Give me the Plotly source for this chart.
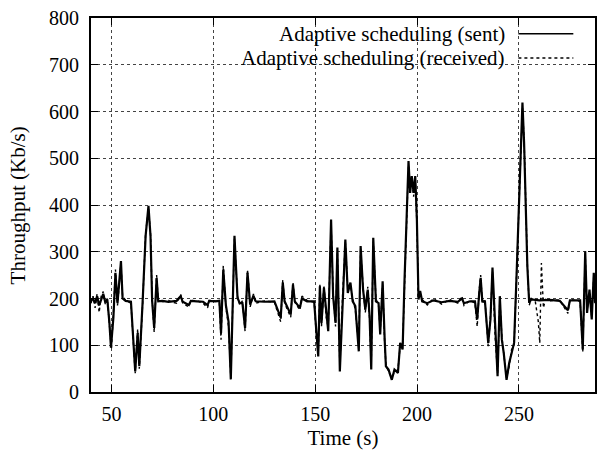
import plotly.graph_objects as go

# Adaptive scheduling (sent)
sent_t = [40, 41, 42, 43, 44, 45, 46, 47, 48, 49, 49.8, 51, 52, 53, 54.7, 55.5, 57, 59.6, 61.7, 62.9,
          63.7, 65.3, 66.8, 68.2, 69.2, 70, 71, 72.2, 73, 75, 78, 80, 82, 84, 85, 88, 89, 92, 95, 97.2,
          98, 101, 103, 103.8, 104.9, 106.2, 107.5, 108.6, 110.4, 111.9, 113, 114.3, 115.6, 116.8, 118.1,
          119.7, 120.8, 125, 130, 133.1, 134.1, 135, 138, 139.1, 140, 142.5, 143.5, 146, 149.5, 150.5,
          151.5, 152.3, 153.1, 154.3, 155.4, 156.4, 157.8, 158.8, 160, 160.9, 162.1, 163.5, 164.8, 166,
          167.3, 168.4, 169.7, 171.4, 172.3, 173.5, 174.6, 175.8, 176.7, 177.5, 178.5, 179.8, 181.1,
          181.9, 183.1, 184.1, 184.7, 186, 187.6, 188.9, 190.6, 191.7, 192.9, 193.8, 195, 195.8, 196.6,
          197.4, 198.3, 199.1, 199.9, 200.7, 201.5, 202.5, 205, 208, 212, 216, 220, 222, 223, 226, 228.4,
          229.5, 230.5, 231.2, 232, 233.3, 234.9, 236, 237, 238.3, 239.5, 240.6, 241.6, 242.5, 243.9,
          245.2, 246.3, 247.6, 248.8, 249.9, 250.9, 251.7, 252.5, 253.2, 254.1, 255, 256, 260, 265, 270,
          274, 275, 280, 281.3, 282.5, 283.4, 284.6, 285.7, 286.7, 287.4]
sent_v = [195, 200, 190, 205, 185, 200, 210, 192, 198, 150, 95, 160, 255, 190, 280, 200, 195, 193, 44, 126,
          55, 190, 334, 398, 334, 195, 137, 244, 194, 195, 193, 194, 195, 205, 193, 186, 195, 194, 193, 186,
          195, 194, 195, 126, 262, 185, 150, 27, 334, 201, 190, 190, 137, 255, 187,
          206, 194, 193, 194, 159, 234, 194, 166, 230, 194, 180, 200, 194, 194, 134,
          76, 226, 148, 223, 169, 130, 369, 205, 148, 309, 44, 205, 326, 212,
          234, 194, 184, 87, 312, 219, 176, 219, 162, 48, 330, 194, 190,
          123, 237, 112, 55, 48, 26, 48, 41, 105, 91, 234, 405, 494, 426,
          462, 426, 462, 369, 198, 216, 194, 190, 196, 192, 195, 193, 200, 190, 194, 194,
          155, 212, 244, 194, 194, 105, 155, 266, 126, 34, 205, 112, 84, 26,
          62, 84, 105, 248, 391, 526, 619, 534, 426, 269, 191, 198, 196, 197, 195,
          175, 196, 196, 91, 301, 169, 219, 155, 255, 190]

# Adaptive scheduling (received)
recv_t = [40, 41, 42, 43, 44, 45, 46, 47, 48, 49, 50, 51, 52, 53, 54.7, 55.5, 57, 59.6, 61.7, 62.9,
          63.7, 65.3, 66.8, 68.2, 69.2, 70, 71, 72.2, 73, 75, 78, 80, 82, 84, 85, 88, 89, 92, 95, 97.2,
          98, 101, 103, 103.8, 104.9, 106.2, 107.5, 108.6, 110.4, 111.9, 113, 114.3, 115.6, 116.8, 118.1,
          119.7, 120.8, 125, 130, 133.1, 134.1, 135, 138, 139.1, 140, 142.5, 143.5, 146, 149.5, 150.5,
          151.5, 152.3, 153.1, 154.3, 155.4, 156.4, 157.8, 158.8, 160, 160.9, 162.1, 163.5, 164.8, 166,
          167.3, 168.4, 169.7, 171.4, 172.3, 173.5, 174.6, 175.8, 176.7, 177.5, 178.5, 179.8, 181.1,
          181.9, 183.1, 184.1, 184.7, 186, 187.6, 188.9, 190.6, 191.7, 192.9, 193.8, 195, 195.8, 196.6,
          197.4, 198.3, 199.1, 199.9, 200.7, 201.5, 202.5, 205, 208, 212, 216, 220, 222, 223, 226, 228.4,
          229.5, 230.5, 231.2, 232, 233.3, 234.9, 236, 237, 238.3, 239.5, 240.6, 241.6, 242.5, 243.9,
          245.2, 246.3, 247.6, 248.8, 249.9, 250.9, 251.7, 252.5, 253.2, 254.1, 255, 256, 258, 259.5,
          260.2, 261, 262, 263, 265, 270, 274, 275, 280, 281.3, 282.5, 283.4, 284.6, 285.7, 286.7, 287.4]
recv_v = [190, 205, 180, 210, 170, 205, 215, 188, 200, 140, 92, 170, 262, 185, 275, 205, 196, 190, 40, 135,
          50, 185, 340, 392, 340, 200, 128, 250, 196, 193, 196, 192, 190, 208, 190, 182, 196, 195, 190, 180,
          196, 195, 190, 112, 270, 180, 140, 30, 328, 205, 186, 195, 130, 262, 182,
          210, 190, 195, 192, 150, 240, 190, 160, 235, 192, 175, 205, 196, 192, 125,
          82, 232, 140, 228, 160, 138, 360, 212, 140, 300, 52, 212, 320, 220,
          228, 200, 176, 95, 305, 225, 170, 225, 155, 56, 322, 200, 185,
          130, 230, 105, 60, 42, 32, 42, 48, 98, 100, 220, 395, 485, 435,
          455, 418, 455, 360, 205, 210, 198, 186, 200, 188, 198, 190, 205, 185, 196, 190,
          140, 218, 250, 190, 198, 98, 162, 258, 118, 40, 198, 118, 78, 30,
          55, 90, 100, 240, 385, 520, 610, 540, 418, 275, 185, 200, 194, 150,
          105, 276, 180, 198, 195, 197, 168, 198, 194, 85, 295, 175, 212, 160, 250, 195]

x_ticks = [50, 100, 150, 200, 250]
y_ticks = [0, 100, 200, 300, 400, 500, 600, 700, 800]
legend_names = ["Adaptive scheduling (sent)", "Adaptive scheduling (received)"]

FONT = "Liberation Serif"

fig = go.Figure()
fig.add_trace(go.Scatter(x=recv_t, y=recv_v, mode="lines", name=legend_names[1],
                         line=dict(color="black", width=1.4, dash="dot")))
fig.add_trace(go.Scatter(x=sent_t, y=sent_v, mode="lines", name=legend_names[0],
                         line=dict(color="black", width=2.2)))

# legend (text right-aligned, sample line to its right, gnuplot style)
for i, (name, dash, w) in enumerate([(legend_names[0], "solid", 1.5), (legend_names[1], "dot", 1.4)]):
    ypos = 0.958 - i * 0.065
    fig.add_annotation(xref="paper", yref="paper", x=0.826, y=ypos, text=name,
                       showarrow=False, xanchor="right", yanchor="middle",
                       font=dict(family=FONT, size=21, color="black"))
    fig.add_shape(type="line", xref="paper", yref="paper", x0=0.848, x1=0.957, y0=ypos, y1=ypos,
                  line=dict(color="black", width=w, dash=dash))

# y-axis title placed like the reference (far left, rotated)
fig.add_annotation(xref="paper", yref="paper", x=-0.144, y=0.5, text="Throughput (Kb/s)",
                   textangle=-90, showarrow=False, xanchor="center", yanchor="middle",
                   font=dict(family=FONT, size=21, color="black"))

axis_common = dict(showline=True, linecolor="black", linewidth=2, mirror="ticks",
                   ticks="inside", ticklen=7, tickcolor="black", tickwidth=1.2,
                   showgrid=True, gridcolor="#444", griddash="dot", gridwidth=1,
                   zeroline=False, tickfont=dict(family=FONT, size=20, color="black"))

fig.update_layout(
    width=597, height=462,
    margin=dict(l=91, r=0, t=18, b=70),
    paper_bgcolor="white", plot_bgcolor="white",
    showlegend=False,
    xaxis=dict(range=[40, 287.3], tickvals=x_ticks, ticktext=[str(v) for v in x_ticks],
               title=dict(text="Time (s)", font=dict(family=FONT, size=21, color="black"), standoff=6),
               ticklabelstandoff=3, **axis_common),
    yaxis=dict(range=[0, 800], tickvals=y_ticks, ticktext=[str(v) for v in y_ticks],
               ticklabelstandoff=6, **axis_common),
)

fig.write_html("out.html")
